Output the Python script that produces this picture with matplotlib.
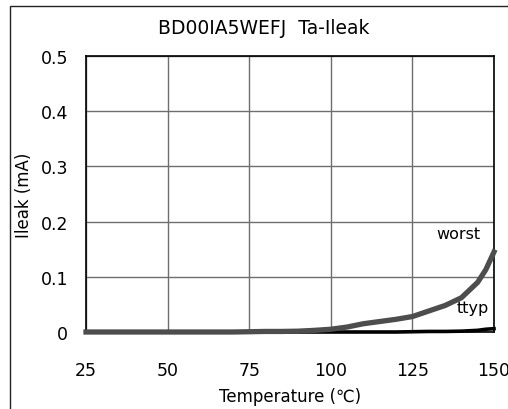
import matplotlib
matplotlib.use("Agg")
import matplotlib.pyplot as plt
from matplotlib.patches import Rectangle

plt.rcParams['font.family'] = ['DejaVu Sans']

temps = [25, 30, 35, 40, 45, 50, 55, 60, 65, 70, 75, 80, 85, 90, 95, 100, 105, 110,
         115, 120, 125, 130, 135, 140, 145, 147.5, 150]
worst = [0, 0, 0, 0, 0, 0, 0, 0, 0, 0, 0.0005, 0.001, 0.001, 0.0015, 0.003, 0.005, 0.009, 0.015,
         0.019, 0.023, 0.028, 0.038, 0.048, 0.062, 0.090, 0.113, 0.145]
ttyp = [0, 0, 0, 0, 0, 0, 0, 0, 0, 0, 0, 0, 0, 0, 0, 0, 0, 0,
        0, 0, 0.0005, 0.001, 0.001, 0.0015, 0.003, 0.005, 0.006]
xticks = [25, 50, 75, 100, 125, 150]
yticks = [0, 0.1, 0.2, 0.3, 0.4, 0.5]
ytick_labels = ['0', '0.1', '0.2', '0.3', '0.4', '0.5']

fig = plt.figure(figsize=(5.08, 4.10), dpi=100)
fig.patches.append(Rectangle((10/508, -0.1), 1.2, 1 - 7/410 + 0.1, transform=fig.transFigure,
                             fill=False, edgecolor='#222222', linewidth=1.0))
ax = fig.add_axes([86/508, 77/410, 408/508, 276/410])

ax.plot(temps, ttyp, color='black', linewidth=2.6, clip_on=False, zorder=3)
ax.plot(temps, worst, color='#4d4d4d', linewidth=3.8, clip_on=False, zorder=4)

ax.set_xlim(25, 150)
ax.set_ylim(0, 0.5)
ax.set_xticks(xticks)
ax.set_yticks(yticks)
ax.set_yticklabels(ytick_labels)
ax.tick_params(axis='x', length=0, pad=21, labelsize=12.5)
ax.tick_params(axis='y', length=0, pad=13, labelsize=12.5)
ax.grid(True, color='#6e6e6e', linewidth=1.0)
ax.set_axisbelow(True)
for s in ax.spines.values():
    s.set_color('black')
    s.set_linewidth(1.2)

ax.set_xlabel('Temperature (℃)', fontsize=12, labelpad=6)
ax.set_ylabel('Ileak (mA)', fontsize=12, labelpad=5)
fig.text(264/508, 1 - 28/410, 'BD00IA5WEFJ  Ta-Ileak', ha='center', va='center', fontsize=13.5)

ax.text(139, 0.179, 'worst', ha='center', va='center', fontsize=11.5)
ax.text(143.6, 0.045, 'ttyp', ha='center', va='center', fontsize=11.5)

fig.savefig('out.png', dpi=100)
